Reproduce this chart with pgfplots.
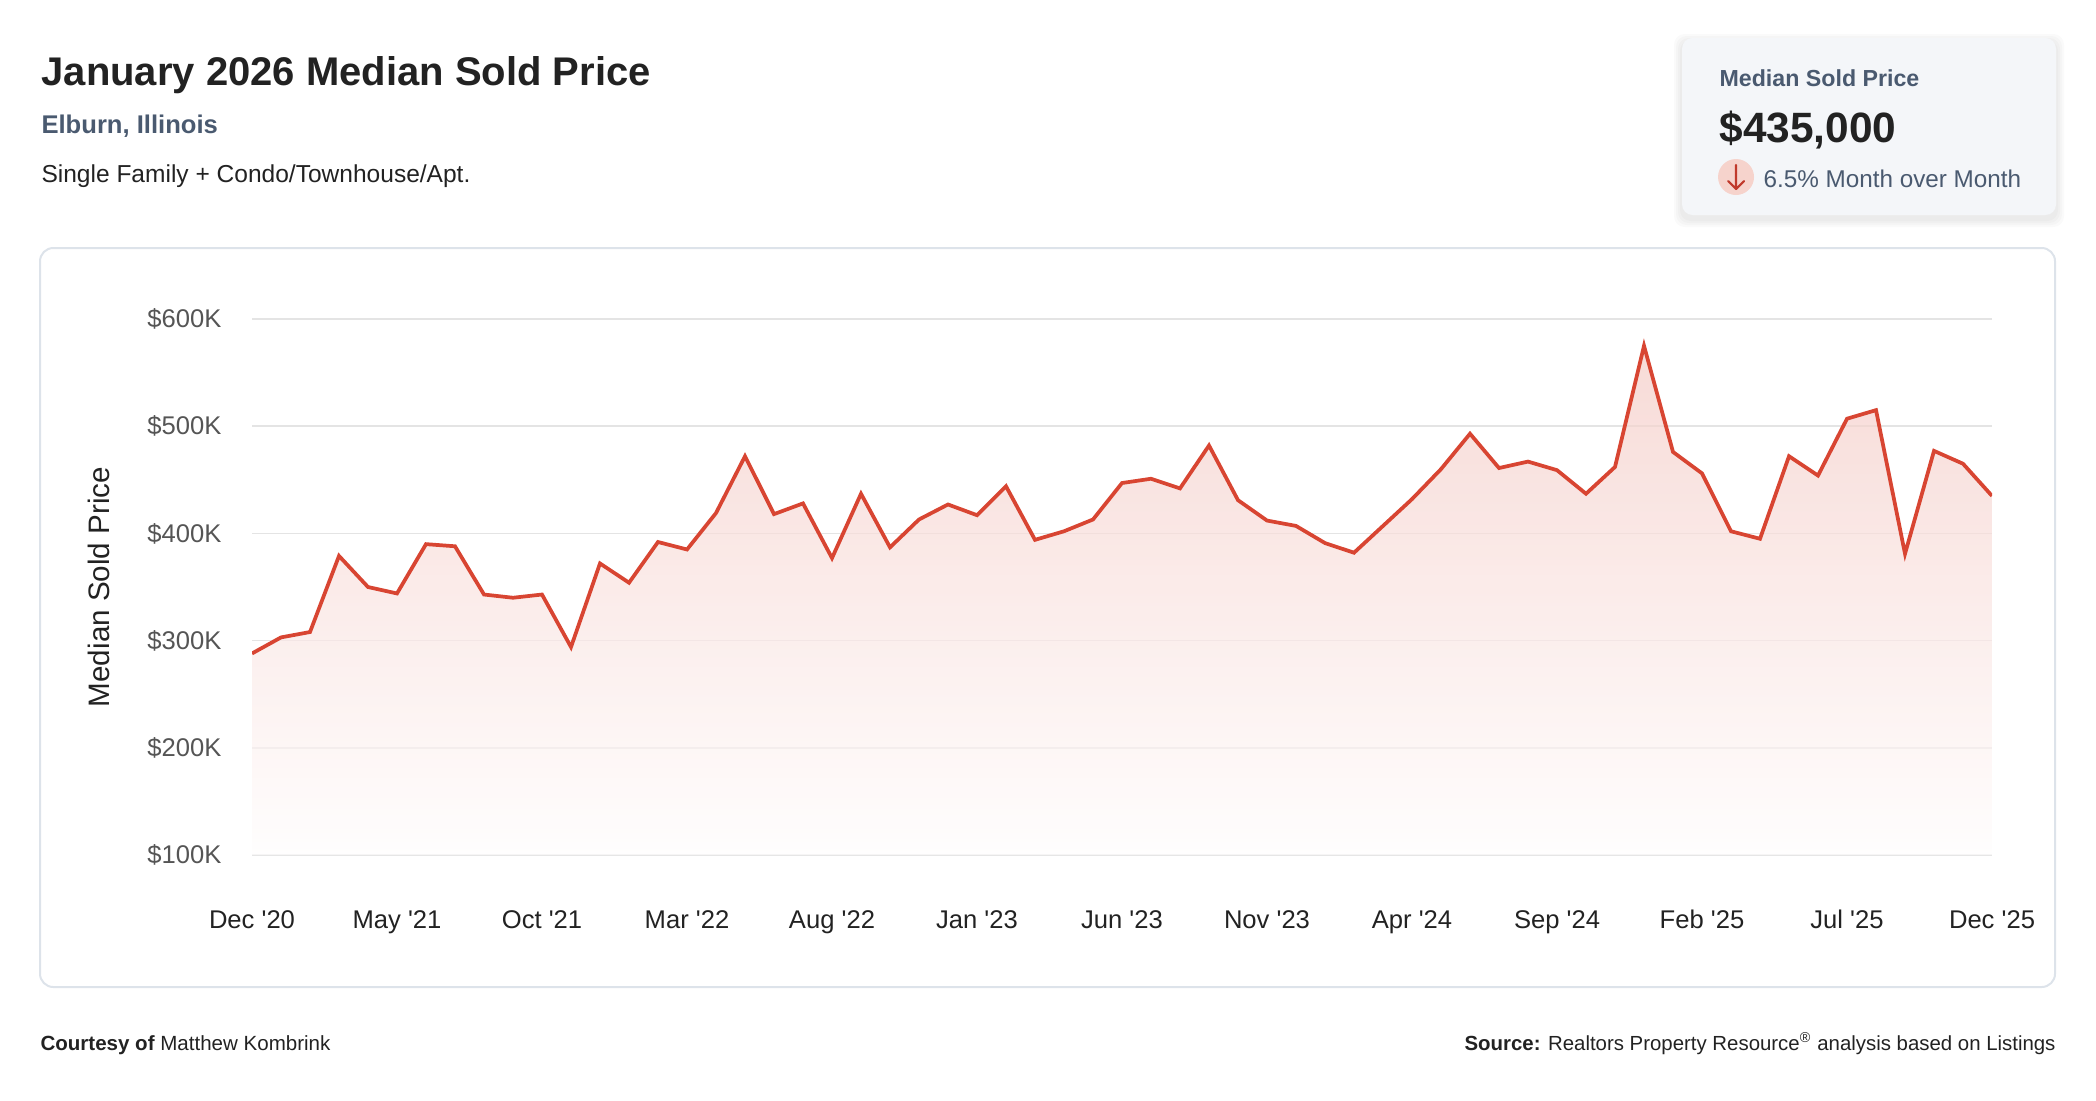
\documentclass[border=0pt]{standalone}
\usepackage{fontspec}
\setmainfont{Liberation Sans}[Ligatures=TeXOff]
\usepackage{pgfplots}
\pgfplotsset{compat=1.18}
\usepackage{pgfplotstable}

\definecolor{linered}{HTML}{D84532}
\definecolor{textdark}{HTML}{222222}
\definecolor{slate}{HTML}{4A5A70}
\definecolor{tickgray}{HTML}{555555}
\definecolor{gridgray}{HTML}{E4E4E4}
\definecolor{boxline}{HTML}{DDE3EA}
\definecolor{cardfill}{HTML}{F4F6F9}
\definecolor{arrowred}{HTML}{C0392B}
\definecolor{arrowbg}{HTML}{F6D3CC}

% month index (0 = Dec 2020), median sold price in $K
\pgfplotstableread{
m v
0 288
1 303
2 308
3 379
4 350
5 344
6 390
7 388
8 343
9 340
10 343
11 294
12 372
13 354
14 392
15 385
16 419
17 472
18 418
19 428
20 377
21 437
22 387
23 413
24 427
25 417
26 444
27 394
28 402
29 413
30 447
31 451
32 442
33 482
34 431
35 412
36 407
37 391
38 382
39 407
40 432
41 460
42 493
43 461
44 467
45 459
46 437
47 462
48 575
49 476
50 456
51 402
52 395
53 472
54 454
55 507
56 515
57 381
58 477
59 465
60 435
}\prices

\begin{document}
\begin{tikzpicture}
\path[use as bounding box] (0,0) rectangle (786pt,-412.5pt);
\begin{scope}[x=0.375pt,y=-0.375pt]
  % header
  \node[anchor=base west, inner sep=0pt, text=textdark, font=\fontsize{15}{18}\selectfont\bfseries]
    at (41,85) {January 2026 Median Sold Price};
  \node[anchor=base west, inner sep=0pt, text=slate, font=\fontsize{9.6}{11}\selectfont\bfseries]
    at (41,133) {Elburn, Illinois};
  \node[anchor=base west, inner sep=0pt, text=textdark, font=\fontsize{9.2}{11}\selectfont]
    at (41,182) {Single Family + Condo/Townhouse/Apt.};

  % summary card
  \foreach \s in {2,4,6,8}
    \fill[black, opacity=0.02, rounded corners=4pt] (1682-\s,42-\s) rectangle (2056+\s,219+\s);
  \fill[cardfill, rounded corners=4pt] (1682,38) rectangle (2056,215);
  \node[anchor=base west, inner sep=0pt, text=slate, font=\fontsize{8.7}{11}\selectfont\bfseries]
    at (1719,86) {Median Sold Price};
  \node[anchor=base west, inner sep=0pt, text=textdark, font=\fontsize{15.9}{19}\selectfont\bfseries]
    at (1719,142) {\$435,000};
  \fill[arrowbg] (1736,177) circle (18);
  \draw[arrowred, line width=0.8pt, line cap=round, line join=round]
    (1736,165) -- (1736,189) (1728,181) -- (1736,189) -- (1744,181);
  \node[anchor=base west, inner sep=0pt, text=slate, font=\fontsize{9.1}{11}\selectfont]
    at (1763,187) {6.5\% Month over Month};

  % chart frame
  \draw[boxline, line width=0.75pt, rounded corners=5pt] (40,248) rectangle (2055,987);

  % footer
  \node[anchor=base west, inner sep=0pt, text=textdark, font=\fontsize{7.7}{9}\selectfont]
    at (40,1050) {\textbf{Courtesy of} Matthew Kombrink};
  \node[anchor=base east, inner sep=0pt, text=textdark, font=\fontsize{7.65}{9}\selectfont]
    at (2056,1050) {\textbf{Source:} Realtors Property Resource\textsuperscript{\textregistered} analysis based on Listings};
\end{scope}

\begin{axis}[
    at={(94.5pt,-320.625pt)}, anchor=south west,
    scale only axis,
    width=652.5pt, height=201pt,
    xmin=0, xmax=60,
    ymin=100, ymax=600,
    xtick={0,5,...,60},
    xticklabels={Dec '20, May '21, Oct '21, Mar '22, Aug '22, Jan '23, Jun '23, Nov '23, Apr '24, Sep '24, Feb '25, Jul '25, Dec '25},
    ytick={100,200,...,600},
    yticklabels={\$100K,\$200K,\$300K,\$400K,\$500K,\$600K},
    ymajorgrids,
    major grid style={draw=gridgray, line width=0.6pt},
    axis line style={draw=none},
    major tick length=0pt,
    tick label style={font=\fontsize{9.6}{11}\selectfont},
    yticklabel style={text=tickgray, anchor=east, inner sep=0pt, xshift=-11.25pt},
    xticklabel style={text=textdark, anchor=base, inner sep=0pt, yshift=-27.5pt},
    ylabel={Median Sold Price},
    every axis y label/.style={at={(axis description cs:0,0.5)}, xshift=-57.4pt,
      rotate=90, anchor=center, text=textdark, font=\fontsize{11.1}{13}\selectfont},
]
\addplot[draw=none, top color=linered!28, bottom color=linered!1, fill opacity=0.7]
  table[x=m, y=v] {\prices} \closedcycle;
\addplot[linered, line width=1.4pt] table[x=m, y=v] {\prices};
\end{axis}
\end{tikzpicture}
\end{document}
